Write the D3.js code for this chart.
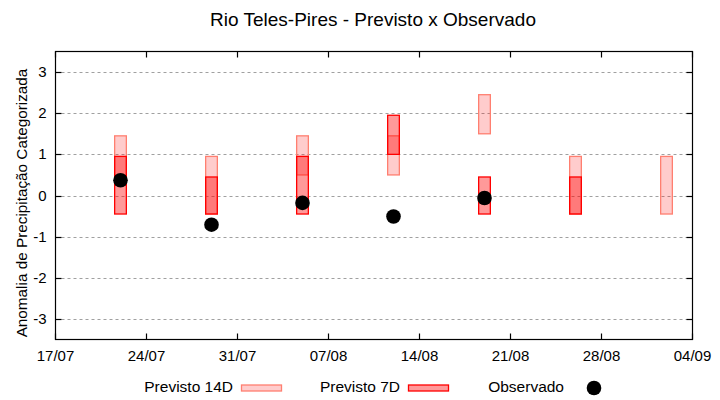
<!DOCTYPE html>
<html>
<head>
<meta charset="utf-8">
<script src="https://cdn.jsdelivr.net/npm/d3@7"></script>
<style>
  body { margin: 0; background: #fff; }
  text { font-family: "Liberation Sans", Arial, sans-serif; }
</style>
</head>
<body>
<div id="vis"></div>
<script>
// data
const dates = ["22/07/2024", "29/07/2024", "05/08/2024", "12/08/2024", "19/08/2024", "26/08/2024", "02/09/2024"];
const p14Low  = [0.5, -0.45, 0.5, 0.5, 1.5, -0.45, -0.45];
const p14High = [1.45, 0.95, 1.45, 1.45, 2.45, 0.95, 0.95];
const p7Low   = [-0.45, -0.45, -0.45, 1.0, -0.45, -0.45, null];
const p7High  = [0.95, 0.45, 0.95, 1.95, 0.45, 0.45, null];
const observed = [0.37, -0.71, -0.18, -0.51, -0.06, null, null];
const yTicks = [-3, -2, -1, 0, 1, 2, 3];

const parse = d3.timeParse("%d/%m/%Y");
const fmt = d3.timeFormat("%d/%m");
const rows = dates.map((d, i) => ({
  date: parse(d),
  lo14: p14Low[i], hi14: p14High[i],
  lo7: p7Low[i], hi7: p7High[i],
  obs: observed[i]
}));

const W = 720, H = 400;
const pL = 55.5, pR = 692.5, pT = 51.5, pB = 339.5;

const svg = d3.select('#vis').append('svg')
  .attr('width', W).attr('height', H);

const x = d3.scaleTime()
  .domain([parse("17/07/2024"), parse("04/09/2024")])
  .range([pL, pR]);
const y = d3.scaleLinear().domain([-3.5, 3.5]).range([pB, pT]);
const xTicks = d3.timeDay.range(parse("17/07/2024"), d3.timeDay.offset(parse("04/09/2024"), 1), 7);
const halfDay = (x(parse("18/07/2024")) - x(parse("17/07/2024"))) * 0.45;

// grid
svg.append('g').selectAll('line').data(yTicks).enter().append('line')
  .attr('x1', pL).attr('x2', pR)
  .attr('y1', d => Math.round(y(d)) + 0.5).attr('y2', d => Math.round(y(d)) + 0.5)
  .attr('stroke', '#a0a0a0').attr('stroke-width', 1).attr('stroke-dasharray', '3,3');

// 14 day forecast
svg.append('g').selectAll('rect').data(rows).enter().append('rect')
  .attr('x', d => x(d.date) - halfDay)
  .attr('width', halfDay * 2)
  .attr('y', d => y(d.hi14))
  .attr('height', d => y(d.lo14) - y(d.hi14))
  .attr('fill', 'rgba(255,0,0,0.2)')
  .attr('stroke', '#ff7f70').attr('stroke-width', 1.3);

// 7 day forecast
svg.append('g').selectAll('rect').data(rows.filter(d => d.hi7 != null)).enter().append('rect')
  .attr('x', d => x(d.date) - halfDay)
  .attr('width', halfDay * 2)
  .attr('y', d => y(d.hi7))
  .attr('height', d => y(d.lo7) - y(d.hi7))
  .attr('fill', 'rgba(255,0,0,0.4)')
  .attr('stroke', '#ff0000').attr('stroke-width', 1.3);

// observed
svg.append('g').selectAll('circle').data(rows.filter(d => d.obs != null)).enter().append('circle')
  .attr('cx', d => x(d.date))
  .attr('cy', d => y(d.obs))
  .attr('r', 7.3)
  .attr('fill', '#000');

// frame
svg.append('rect')
  .attr('x', pL).attr('y', pT)
  .attr('width', pR - pL).attr('height', pB - pT)
  .attr('fill', 'none').attr('stroke', '#000').attr('stroke-width', 1.2);

// ticks (inward, mirrored)
const tk = svg.append('g').attr('stroke', '#000').attr('stroke-width', 1.2);
yTicks.forEach(v => {
  const yy = Math.round(y(v)) + 0.5;
  tk.append('line').attr('x1', pL).attr('x2', pL + 6).attr('y1', yy).attr('y2', yy);
  tk.append('line').attr('x1', pR - 6).attr('x2', pR).attr('y1', yy).attr('y2', yy);
});
xTicks.forEach(d => {
  const xx = x(d);
  tk.append('line').attr('x1', xx).attr('x2', xx).attr('y1', pB).attr('y2', pB - 6);
  tk.append('line').attr('x1', xx).attr('x2', xx).attr('y1', pT).attr('y2', pT + 6);
});

// tick labels
svg.append('g').selectAll('text').data(yTicks).enter().append('text')
  .attr('x', pL - 9).attr('y', d => y(d) + 5)
  .attr('text-anchor', 'end').attr('font-size', 15)
  .text(d => d);
svg.append('g').selectAll('text').data(xTicks).enter().append('text')
  .attr('x', d => x(d)).attr('y', pB + 21)
  .attr('text-anchor', 'middle').attr('font-size', 15)
  .text(d => fmt(d));

// title & axis label
svg.append('text')
  .attr('x', 373).attr('y', 26)
  .attr('text-anchor', 'middle').attr('font-size', 19)
  .text('Rio Teles-Pires - Previsto x Observado');
svg.append('text')
  .attr('transform', 'translate(27,203) rotate(-90)')
  .attr('text-anchor', 'middle').attr('font-size', 15.3)
  .text('Anomalia de Precipitação Categorizada');

// legend
const lg = svg.append('g');
lg.append('text').attr('x', 233).attr('y', 392).attr('text-anchor', 'end').attr('font-size', 15.5).text('Previsto 14D');
lg.append('rect').attr('x', 241.5).attr('y', 385).attr('width', 40).attr('height', 6)
  .attr('fill', 'rgba(255,0,0,0.2)').attr('stroke', '#ff7f70').attr('stroke-width', 1.3);
lg.append('text').attr('x', 400).attr('y', 392).attr('text-anchor', 'end').attr('font-size', 15.5).text('Previsto 7D');
lg.append('rect').attr('x', 408.5).attr('y', 385).attr('width', 40).attr('height', 6)
  .attr('fill', 'rgba(255,0,0,0.4)').attr('stroke', '#ff0000').attr('stroke-width', 1.3);
lg.append('text').attr('x', 564).attr('y', 392).attr('text-anchor', 'end').attr('font-size', 15.5).text('Observado');
lg.append('circle').attr('cx', 594).attr('cy', 388).attr('r', 7.3).attr('fill', '#000');
</script>
</body>
</html>
